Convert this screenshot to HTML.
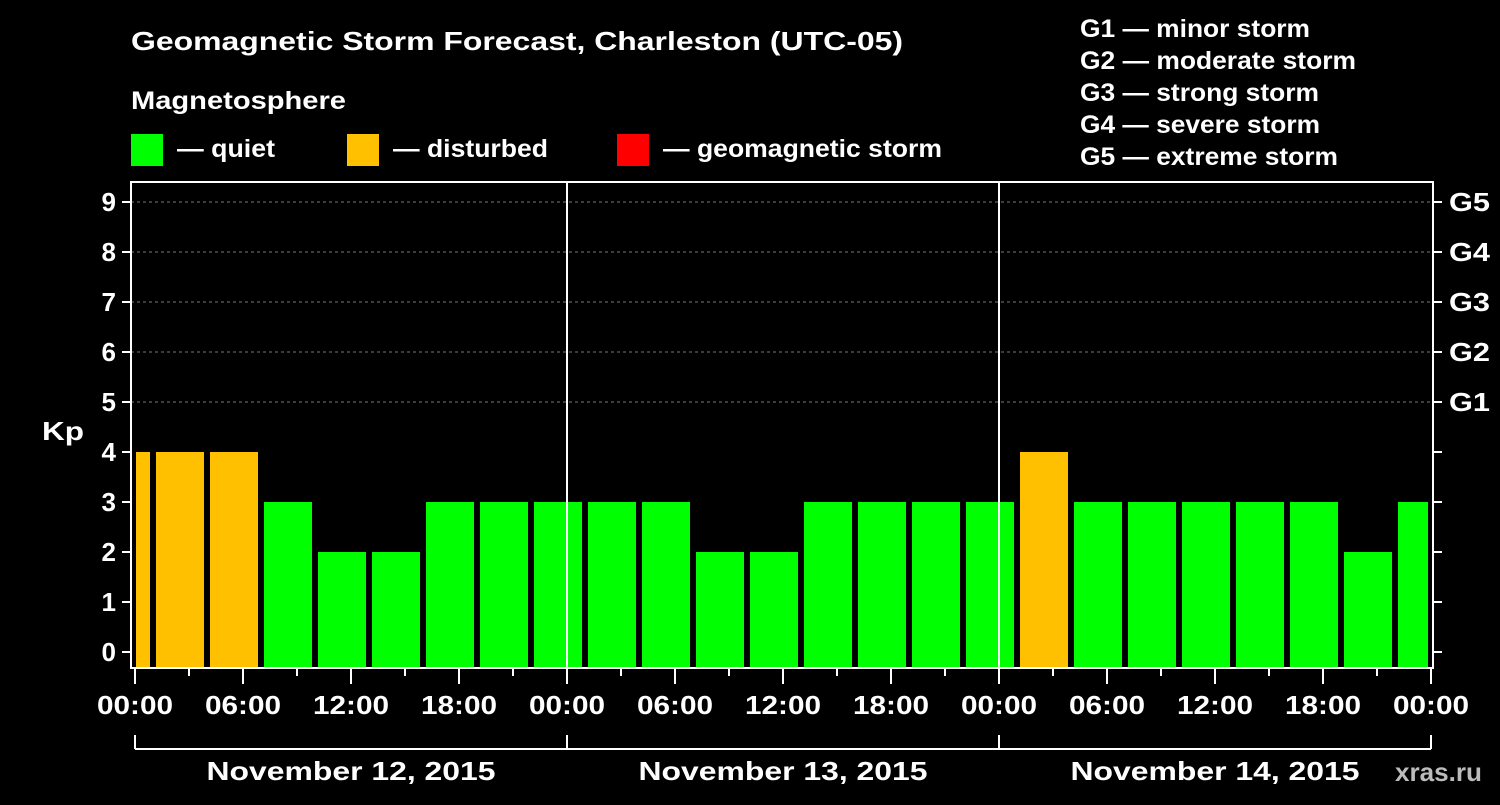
<!DOCTYPE html>
<html><head><meta charset="utf-8"><style>
body{margin:0;background:#000;width:1500px;height:800px;overflow:hidden}
svg text{font-family:"Liberation Sans",Arial,sans-serif;font-weight:bold;fill:#fff}
</style></head><body>
<svg id="c" width="1500" height="800">
<text x="131" y="50" font-size="26" textLength="772" lengthAdjust="spacingAndGlyphs">Geomagnetic Storm Forecast, Charleston (UTC-05)</text>
<text x="131" y="109" font-size="25" textLength="215" lengthAdjust="spacingAndGlyphs">Magnetosphere</text>
<rect x="131" y="134" width="32" height="32" fill="#00ff00"/>
<text x="177" y="157" font-size="25" textLength="98" lengthAdjust="spacingAndGlyphs">— quiet</text>
<rect x="347" y="134" width="32" height="32" fill="#ffc000"/>
<text x="393" y="157" font-size="25" textLength="155" lengthAdjust="spacingAndGlyphs">— disturbed</text>
<rect x="617" y="134" width="32" height="32" fill="#ff0000"/>
<text x="663" y="157" font-size="25" textLength="279" lengthAdjust="spacingAndGlyphs">— geomagnetic storm</text>
<g font-size="25">
<text x="1080" y="37" textLength="230" lengthAdjust="spacingAndGlyphs">G1 — minor storm</text>
<text x="1080" y="69" textLength="276" lengthAdjust="spacingAndGlyphs">G2 — moderate storm</text>
<text x="1080" y="101" textLength="239" lengthAdjust="spacingAndGlyphs">G3 — strong storm</text>
<text x="1080" y="133" textLength="240" lengthAdjust="spacingAndGlyphs">G4 — severe storm</text>
<text x="1080" y="165" textLength="258" lengthAdjust="spacingAndGlyphs">G5 — extreme storm</text>
</g>
<text x="42" y="440" font-size="26" textLength="42" lengthAdjust="spacingAndGlyphs">Kp</text>
<text x="1395" y="781" font-size="26" textLength="87" lengthAdjust="spacingAndGlyphs" style="fill:#bbb">xras.ru</text>
<g id="g"></g>
</svg>
<script>
const kpValues=[4,4,4,3,2,2,3,3,3,3,3,2,2,3,3,3,3,4,3,3,3,3,3,2,3];
const binStartHours=[-2,1,4,7,10,13,16,19,22,25,28,31,34,37,40,43,46,49,52,55,58,61,64,67,70];
const dayLabels=["November 12, 2015","November 13, 2015","November 14, 2015"];
const timeLabels=["00:00","06:00","12:00","18:00"];
const gLabels=["G1","G2","G3","G4","G5"];
const X0=135,PX_H=18,Y0=652,PX_K=50,TOP=182,BOT=668,RIGHT=1433;
const xs=h=>X0+h*PX_H, ys=k=>Y0-k*PX_K;
const NS="http://www.w3.org/2000/svg",g=document.getElementById('g');
function mk(t,a,txt){const e=document.createElementNS(NS,t);for(const k in a)e.setAttribute(k,a[k]);if(txt!==undefined)e.textContent=txt;g.appendChild(e);return e;}
for(let k=5;k<=9;k++){const e=mk('line',{x1:131,x2:RIGHT,y1:ys(k),y2:ys(k),stroke:'#777','stroke-dasharray':'3,3'});

}
binStartHours.forEach((h,i)=>{const v=kpValues[i];
let a=Math.max(xs(h),X0)+3,b=Math.min(xs(h+3),RIGHT-2)-3;
if(xs(h)<X0)a=X0+1;
const col=v>=5?'#ff0000':v>=4?'#ffc000':'#00ff00';
const r=mk('rect',{x:a,y:ys(v),width:b-a,height:BOT-ys(v),fill:col});

});
for(let d=1;d<3;d++){const e=mk('line',{x1:xs(24*d),x2:xs(24*d),y1:TOP,y2:BOT,stroke:'#fff','stroke-width':2});

}
const f=mk('rect',{x:131,y:TOP,width:RIGHT-131,height:BOT-TOP,fill:'none',stroke:'#fff','stroke-width':2});


for(let k=0;k<=9;k++){mk('line',{x1:122,x2:131,y1:ys(k),y2:ys(k),stroke:'#fff','stroke-width':2});
mk('line',{x1:RIGHT,x2:RIGHT+9,y1:ys(k),y2:ys(k),stroke:'#fff','stroke-width':2});
const t=mk('text',{x:116,y:ys(k)+9,'font-size':26,'text-anchor':'end'},String(k));

}
gLabels.forEach((s,i)=>{const t=mk('text',{x:1449,y:ys(5+i)+9,'font-size':26,textLength:41,lengthAdjust:'spacingAndGlyphs'},s);

});
for(let h=0;h<=72;h+=3){const major=h%6==0;
mk('line',{x1:xs(h),x2:xs(h),y1:BOT,y2:BOT+(major?16:8),stroke:'#fff','stroke-width':2});
if(major){const t=mk('text',{x:xs(h),y:714,'font-size':26,'text-anchor':'middle',textLength:76,lengthAdjust:'spacingAndGlyphs'},timeLabels[(h%24)/6]);

}}
mk('line',{x1:X0,x2:xs(72),y1:749,y2:749,stroke:'#fff','stroke-width':2});
for(let d=0;d<=3;d++)mk('line',{x1:xs(24*d),x2:xs(24*d),y1:735,y2:749,stroke:'#fff','stroke-width':2});
dayLabels.forEach((s,d)=>{const t=mk('text',{x:xs(24*d+12),y:780,'font-size':26,'text-anchor':'middle',textLength:289,lengthAdjust:'spacingAndGlyphs'},s);

});
</script>
</body></html>
